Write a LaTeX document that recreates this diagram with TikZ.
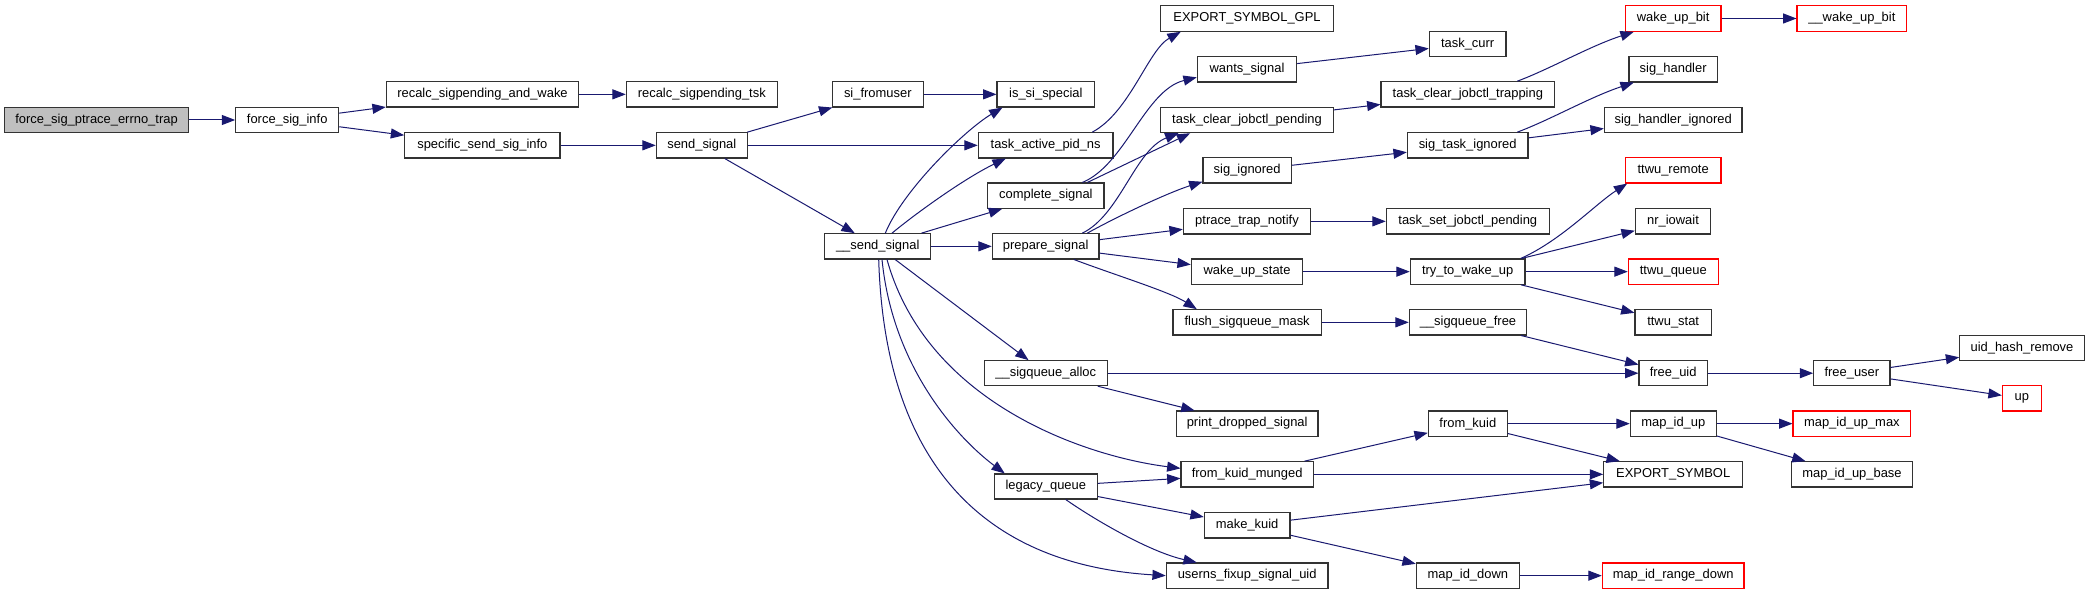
\documentclass[tikz,border=0pt]{standalone}
\usepackage{fontspec}
\setmainfont{Liberation Sans}
\usetikzlibrary{arrows.meta,calc}
\definecolor{edgeblue}{RGB}{25,25,112}
\definecolor{rootgray}{RGB}{191,191,191}
\definecolor{boxred}{RGB}{255,0,0}
\tikzset{
  gbox/.style={draw=black!80,line width=0.8pt,fill=white,inner sep=0pt,rectangle,font=\fontsize{9.7}{11}\selectfont},
  redbox/.style={draw=boxred},
  rootbox/.style={fill=rootgray},
  edge/.style={draw=edgeblue,line width=0.75pt,-{Triangle[length=10pt,width=7.5pt]}},
}
\newcommand{\dxnode}[7][]{%
  \pgfmathsetmacro\dxw{(#5-#3)*0.75}%
  \pgfmathsetmacro\dxh{(#6-#4)*0.75}%
  \pgfmathsetmacro\dxx{(#3+#5)/2}%
  \pgfmathsetmacro\dxy{(#4+#6)/2}%
  \node[gbox,#1,minimum width=\dxw pt,minimum height=\dxh pt] (#2) at (\dxx,\dxy) {#7};}
\begin{document}
\begin{tikzpicture}[x=0.75pt,y=-0.75pt]
\useasboundingbox[fill=white] (0,0) rectangle (2089,595);
% column 1-3
\dxnode[rootbox]{fsp}{4.7}{107.3}{188.3}{132.7}{force\_sig\_ptrace\_errno\_trap}
\dxnode{fsi}{235.7}{107.3}{338.7}{132.7}{force\_sig\_info}
\dxnode{rsw}{386.3}{81.7}{578.7}{107}{recalc\_sigpending\_and\_wake}
\dxnode{ssi}{404.7}{132.7}{560}{158}{specific\_send\_sig\_info}
\dxnode{rst}{626.3}{81.7}{777.3}{107}{recalc\_sigpending\_tsk}
\dxnode{sns}{656.3}{132.7}{747.3}{158}{send\_signal}
\dxnode{sfu}{832.3}{81.7}{923.3}{107}{si\_fromuser}
\dxnode{ss}{824.7}{233.7}{930.7}{259}{\_\_send\_signal}
% column
\dxnode{iss}{997}{81.7}{1094.7}{107}{is\_si\_special}
\dxnode{tap}{978.3}{132.7}{1113}{158}{task\_active\_pid\_ns}
\dxnode{cs}{987.7}{183}{1104}{208.3}{complete\_signal}
\dxnode{ps}{992.3}{233.7}{1099}{259}{prepare\_signal}
\dxnode{sqa}{984.3}{360.7}{1107.3}{385.7}{\_\_sigqueue\_alloc}
\dxnode{lq}{994.3}{474}{1097.3}{499}{legacy\_queue}
% column
\dxnode{esg}{1160.7}{5.7}{1333.3}{31.3}{EXPORT\_SYMBOL\_GPL}
\dxnode{ws}{1197.3}{56.7}{1296.7}{82}{wants\_signal}
\dxnode{tcjp}{1160.7}{107.3}{1333.3}{132.7}{task\_clear\_jobctl\_pending}
\dxnode{si}{1203}{157.7}{1291.3}{183}{sig\_ignored}
\dxnode{ptn}{1183.3}{208.7}{1310.7}{234}{ptrace\_trap\_notify}
\dxnode{wus}{1191.3}{259}{1302.7}{284.3}{wake\_up\_state}
\dxnode{fsm}{1173}{309.7}{1321.3}{335}{flush\_sigqueue\_mask}
\dxnode{pds}{1176.3}{411}{1318}{436.3}{print\_dropped\_signal}
\dxnode{fkm}{1181}{461.7}{1313.3}{487}{from\_kuid\_munged}
\dxnode{mk}{1204.3}{512.7}{1290}{538}{make\_kuid}
\dxnode{ufs}{1166.3}{563}{1328}{588.3}{userns\_fixup\_signal\_uid}
% column
\dxnode{tc}{1429.3}{31.3}{1506}{56.7}{task\_curr}
\dxnode{tcjt}{1381}{81.7}{1554.7}{107}{task\_clear\_jobctl\_trapping}
\dxnode{sti}{1407.3}{132.7}{1528}{158}{sig\_task\_ignored}
\dxnode{tsjp}{1386.3}{208.7}{1549.3}{234}{task\_set\_jobctl\_pending}
\dxnode{ttw}{1410.3}{259}{1525}{284.3}{try\_to\_wake\_up}
\dxnode{sqf}{1409.3}{309.7}{1526.7}{335}{\_\_sigqueue\_free}
\dxnode{fk}{1428.3}{411}{1507.3}{436.3}{from\_kuid}
\dxnode{mid}{1416.3}{563}{1519.3}{588.3}{map\_id\_down}
% column
\dxnode[redbox]{wub}{1625.3}{5.7}{1721}{31.3}{wake\_up\_bit}
\dxnode{sh}{1629}{56.7}{1717.3}{82}{sig\_handler}
\dxnode{shi}{1604.3}{107.3}{1742}{132.7}{sig\_handler\_ignored}
\dxnode[redbox]{twr}{1625.3}{157.7}{1721}{183}{ttwu\_remote}
\dxnode{nri}{1635.3}{208.7}{1710.7}{234}{nr\_iowait}
\dxnode[redbox]{twq}{1628.3}{259}{1718.3}{284.3}{ttwu\_queue}
\dxnode{tws}{1635}{309.7}{1711.3}{335}{ttwu\_stat}
\dxnode{fu}{1639}{360.7}{1707.3}{385.7}{free\_uid}
\dxnode{miu}{1630.3}{411}{1716.3}{436.3}{map\_id\_up}
\dxnode{es}{1603.7}{461.7}{1742.7}{487}{EXPORT\_SYMBOL}
\dxnode[redbox]{mird}{1602.3}{563}{1744}{588.3}{map\_id\_range\_down}
% column
\dxnode[redbox]{wubb}{1797}{5.7}{1906.7}{31.3}{\_\_wake\_up\_bit}
\dxnode{fus}{1813.7}{360.7}{1890}{385.7}{free\_user}
\dxnode[redbox]{mium}{1793}{411}{1910.7}{436.3}{map\_id\_up\_max}
\dxnode{miub}{1791.7}{461.7}{1912.3}{487}{map\_id\_up\_base}
% column
\dxnode{uhr}{1959.7}{335.3}{2084.3}{360.7}{uid\_hash\_remove}
\dxnode[redbox]{up}{2002.3}{385.7}{2041.3}{411}{up}

% straight edges
\draw[edge] (fsp) -- (fsi);
\draw[edge] (fsi) -- (rsw);
\draw[edge] (fsi) -- (ssi);
\draw[edge] (rsw) -- (rst);
\draw[edge] (ssi) -- (sns);
\draw[edge] (sns) -- (sfu);
\draw[edge] (sns) -- (tap);
\draw[edge] (sns) -- (ss);
\draw[edge] (sfu) -- (iss);
\draw[edge] (ss) -- (cs);
\draw[edge] (ss) -- (ps);
\draw[edge] (ss) -- (sqa);
\draw[edge] (ps) -- (ptn);
\draw[edge] (ps) -- (wus);
\draw[edge] (ws) -- (tc);
\draw[edge] (tcjp) -- (tcjt);
\draw[edge] (si) -- (sti);
\draw[edge] (ptn) -- (tsjp);
\draw[edge] (wus) -- (ttw);
\draw[edge] (fsm) -- (sqf);
\draw[edge] (sqa) -- (fu);
\draw[edge] (sqa) -- (pds);
\draw[edge] (fkm) -- (fk);
\draw[edge] (fkm) -- (es);
\draw[edge] (lq) -- (fkm);
\draw[edge] (lq) -- (mk);
\draw[edge] (mk) -- (es);
\draw[edge] (mk) -- (mid);
\draw[edge] (sti) -- (shi);
\draw[edge] (ttw) -- (nri);
\draw[edge] (ttw) -- (twq);
\draw[edge] (ttw) -- (tws);
\draw[edge] (sqf) -- (fu);
\draw[edge] (fk) -- (miu);
\draw[edge] (fk) -- (es);
\draw[edge] (mid) -- (mird);
\draw[edge] (wub) -- (wubb);
\draw[edge] (fu) -- (fus);
\draw[edge] (miu) -- (mium);
\draw[edge] (miu) -- (miub);
\draw[edge] (fus) -- (uhr);
\draw[edge] (fus) -- (up);
\draw[edge] ($(cs.north)+(41.5,0)$) -- ($(tcjp.south west)+(30,0)$);

% curved edges
\draw[edge] ($(tap.north)+(46.6,0)$) .. controls (1130,112) and (1148,50) .. ($(esg.south)+(-66.3,0)$);
\draw[edge] ($(ss.north)+(7.6,0)$) .. controls (903,190) and (965,130) .. ($(iss.south west)+(6,0)$);
\draw[edge] ($(ss.north)+(14.3,0)$) .. controls (915,214) and (965,178) .. ($(tap.south west)+(28,0)$);
\draw[edge] ($(ss.south)+(9.3,0)$) .. controls (927,403) and (1085,456.3) .. ($(fkm.west)+(0,-6)$);
\draw[edge] ($(ss.south)+(4.3,0)$) .. controls (893,370) and (960,440) .. ($(lq.north west)+(11,0)$);
\draw[edge] ($(ss.south)+(1,0)$) .. controls (885,470) and (990,565) .. (ufs.west);
\draw[edge] ($(cs.north)+(36.5,0)$) .. controls (1125,165) and (1145,90) .. ($(ws.west)+(0,8)$);
\draw[edge] ($(ps.north)+(36.6,0)$) .. controls (1120,215) and (1135,150) .. ($(tcjp.south west)+(18.3,0)$);
\draw[edge] ($(ps.north)+(41.6,0)$) .. controls (1120,215) and (1170,192) .. ($(si.west)+(0,11.4)$);
\draw[edge] ($(ps.south)+(28.3,0)$) .. controls (1115,275) and (1170,292) .. ($(fsm.north west)+(24.3,0)$);
\draw[edge] ($(tcjt.north)+(49.5,0)$) .. controls (1550,69) and (1590,46) .. ($(wub.south west)+(9,0)$);
\draw[edge] ($(sti.north)+(49.6,0)$) .. controls (1550,120) and (1590,97) .. ($(sh.south west)+(5.3,0)$);
\draw[edge] ($(ttw.north)+(53,0)$) .. controls (1560.7,240.8) and (1595.7,203.8) .. ($(twr.south west)+(2.4,0)$);
\draw[edge] ($(lq.south)+(19.9,0)$) .. controls (1095,520) and (1150,552) .. ($(ufs.north west)+(31,0)$);
\end{tikzpicture}
\end{document}
